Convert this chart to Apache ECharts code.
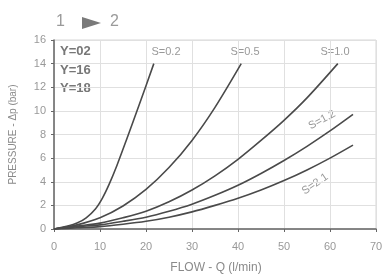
<!DOCTYPE html>
<html>
<head>
<meta charset="utf-8">
<script src="https://cdn.jsdelivr.net/npm/echarts@6/dist/echarts.min.js"></script>
<style>
  html, body { margin: 0; padding: 0; background: #fff; }
  #chart { width: 385px; height: 275px; }
</style>
</head>
<body>
<div id="chart"></div>
<script>
// flow (l/min) / pressure (bar) pairs
var s02 = [[0, 0], [3, 0.25], [5, 0.5], [7, 0.95], [9, 1.7], [10.5, 2.6], [12, 3.8], [13.7, 5.4], [15.8, 7.6], [18.6, 10.6], [21.7, 14]];
var s05 = [[0, 0], [5, 0.35], [10, 0.95], [15, 1.95], [20, 3.35], [25, 5.2], [30, 7.5], [35, 10.3], [40.7, 14]];
var s10 = [[0, 0], [5, 0.25], [10, 0.5], [15, 0.95], [20, 1.5], [25, 2.3], [30, 3.3], [35, 4.5], [40, 5.9], [45, 7.5], [50, 9.2], [55, 11.1], [61.7, 14]];
var s12 = [[0, 0], [5, 0.2], [10, 0.35], [15, 0.65], [20, 1], [25, 1.5], [30, 2.1], [35, 2.85], [40, 3.7], [45, 4.7], [50, 5.8], [55, 7], [60, 8.3], [65, 9.7]];
var s21 = [[0, 0], [5, 0.1], [10, 0.2], [15, 0.4], [20, 0.65], [25, 1], [30, 1.45], [35, 2], [40, 2.6], [45, 3.3], [50, 4.1], [55, 5], [60, 6], [65, 7.1]];

var curveNames = ['S=0.2', 'S=0.5', 'S=1.0', 'S=1.2', 'S=2.1'];
var curveData = [s02, s05, s10, s12, s21];
var modelCodes = ['Y=02', 'Y=16', 'Y=18'];

var chart = echarts.init(document.getElementById('chart'));

var series = [];
for (var i = 0; i < curveData.length; i++) {
    series.push({
        name: curveNames[i],
        type: 'line',
        data: curveData[i],
        smooth: 0.3,
        showSymbol: false,
        lineStyle: { color: '#4a4a4a', width: 1.6 }
    });
}

var grey = '#8a8a8a';
var font = 'Arial, "Liberation Sans"';
var graphics = [
    //title 1 -> 2
    { type: 'text', left: 56, top: 14, style: { text: '1', font: '16px ' + font, fill: '#9a9a9a' } },
    { type: 'polygon', shape: { points: [[82, 17], [82, 29], [101, 23]] }, style: { fill: '#7a7a7a' } },
    { type: 'text', left: 110, top: 14, style: { text: '2', font: '16px ' + font, fill: '#9a9a9a' } },
    //axis name x
    { type: 'text', x: 216, y: 268, style: { text: 'FLOW - Q (l/min)', font: '12px ' + font, fill: grey,
        align: 'center', verticalAlign: 'middle' } }
];
for (var k = 0; k < modelCodes.length; k++) {
    graphics.push({ type: 'text', left: 60, top: 45 + k * 18.5,
        style: { text: modelCodes[k], font: 'bold 13px ' + font, fill: '#777' } });
}
//curve labels
var labelPos = [
    { x: 166, y: 52, r: 0 },
    { x: 245, y: 52, r: 0 },
    { x: 335, y: 52, r: 0 },
    { x: 322, y: 120, r: 0.5 },
    { x: 315, y: 184, r: 0.6 }
];
for (var j = 0; j < labelPos.length; j++) {
    graphics.push({
        type: 'text', x: labelPos[j].x, y: labelPos[j].y, rotation: labelPos[j].r,
        style: { text: curveNames[j], font: '11px ' + font, fill: '#999',
            align: 'center', verticalAlign: 'middle' }
    });
}

chart.setOption({
    animation: false,
    backgroundColor: '#fff',
    grid: { left: 54, right: 9, top: 40, bottom: 46, outerBoundsMode: 'none', containLabel: false,
        show: true, borderColor: '#d6d6d6', borderWidth: 1 },
    xAxis: {
        type: 'value', min: 0, max: 70, interval: 10,
        axisLine: { show: true, onZero: false, lineStyle: { color: '#666', width: 1.5 } },
        axisTick: { show: true, length: 3, lineStyle: { color: '#666' } },
        axisLabel: { color: '#999', fontSize: 11, margin: 12, fontFamily: font },
        splitLine: { show: true, lineStyle: { color: '#e0e0e0' } }
    },
    yAxis: {
        type: 'value', min: 0, max: 16, interval: 2,
        name: 'PRESSURE - \u0394p (bar)', nameLocation: 'middle', nameGap: 36,
        nameTextStyle: { color: grey, fontSize: 10, fontFamily: font },
        axisLine: { show: true, lineStyle: { color: '#666', width: 1.5 } },
        axisTick: { show: true, length: 3, lineStyle: { color: '#666' } },
        axisLabel: { color: '#999', fontSize: 11, margin: 8, fontFamily: font },
        splitLine: { show: true, lineStyle: { color: '#e0e0e0' } }
    },
    graphic: graphics,
    series: series
});
</script>
</body>
</html>
